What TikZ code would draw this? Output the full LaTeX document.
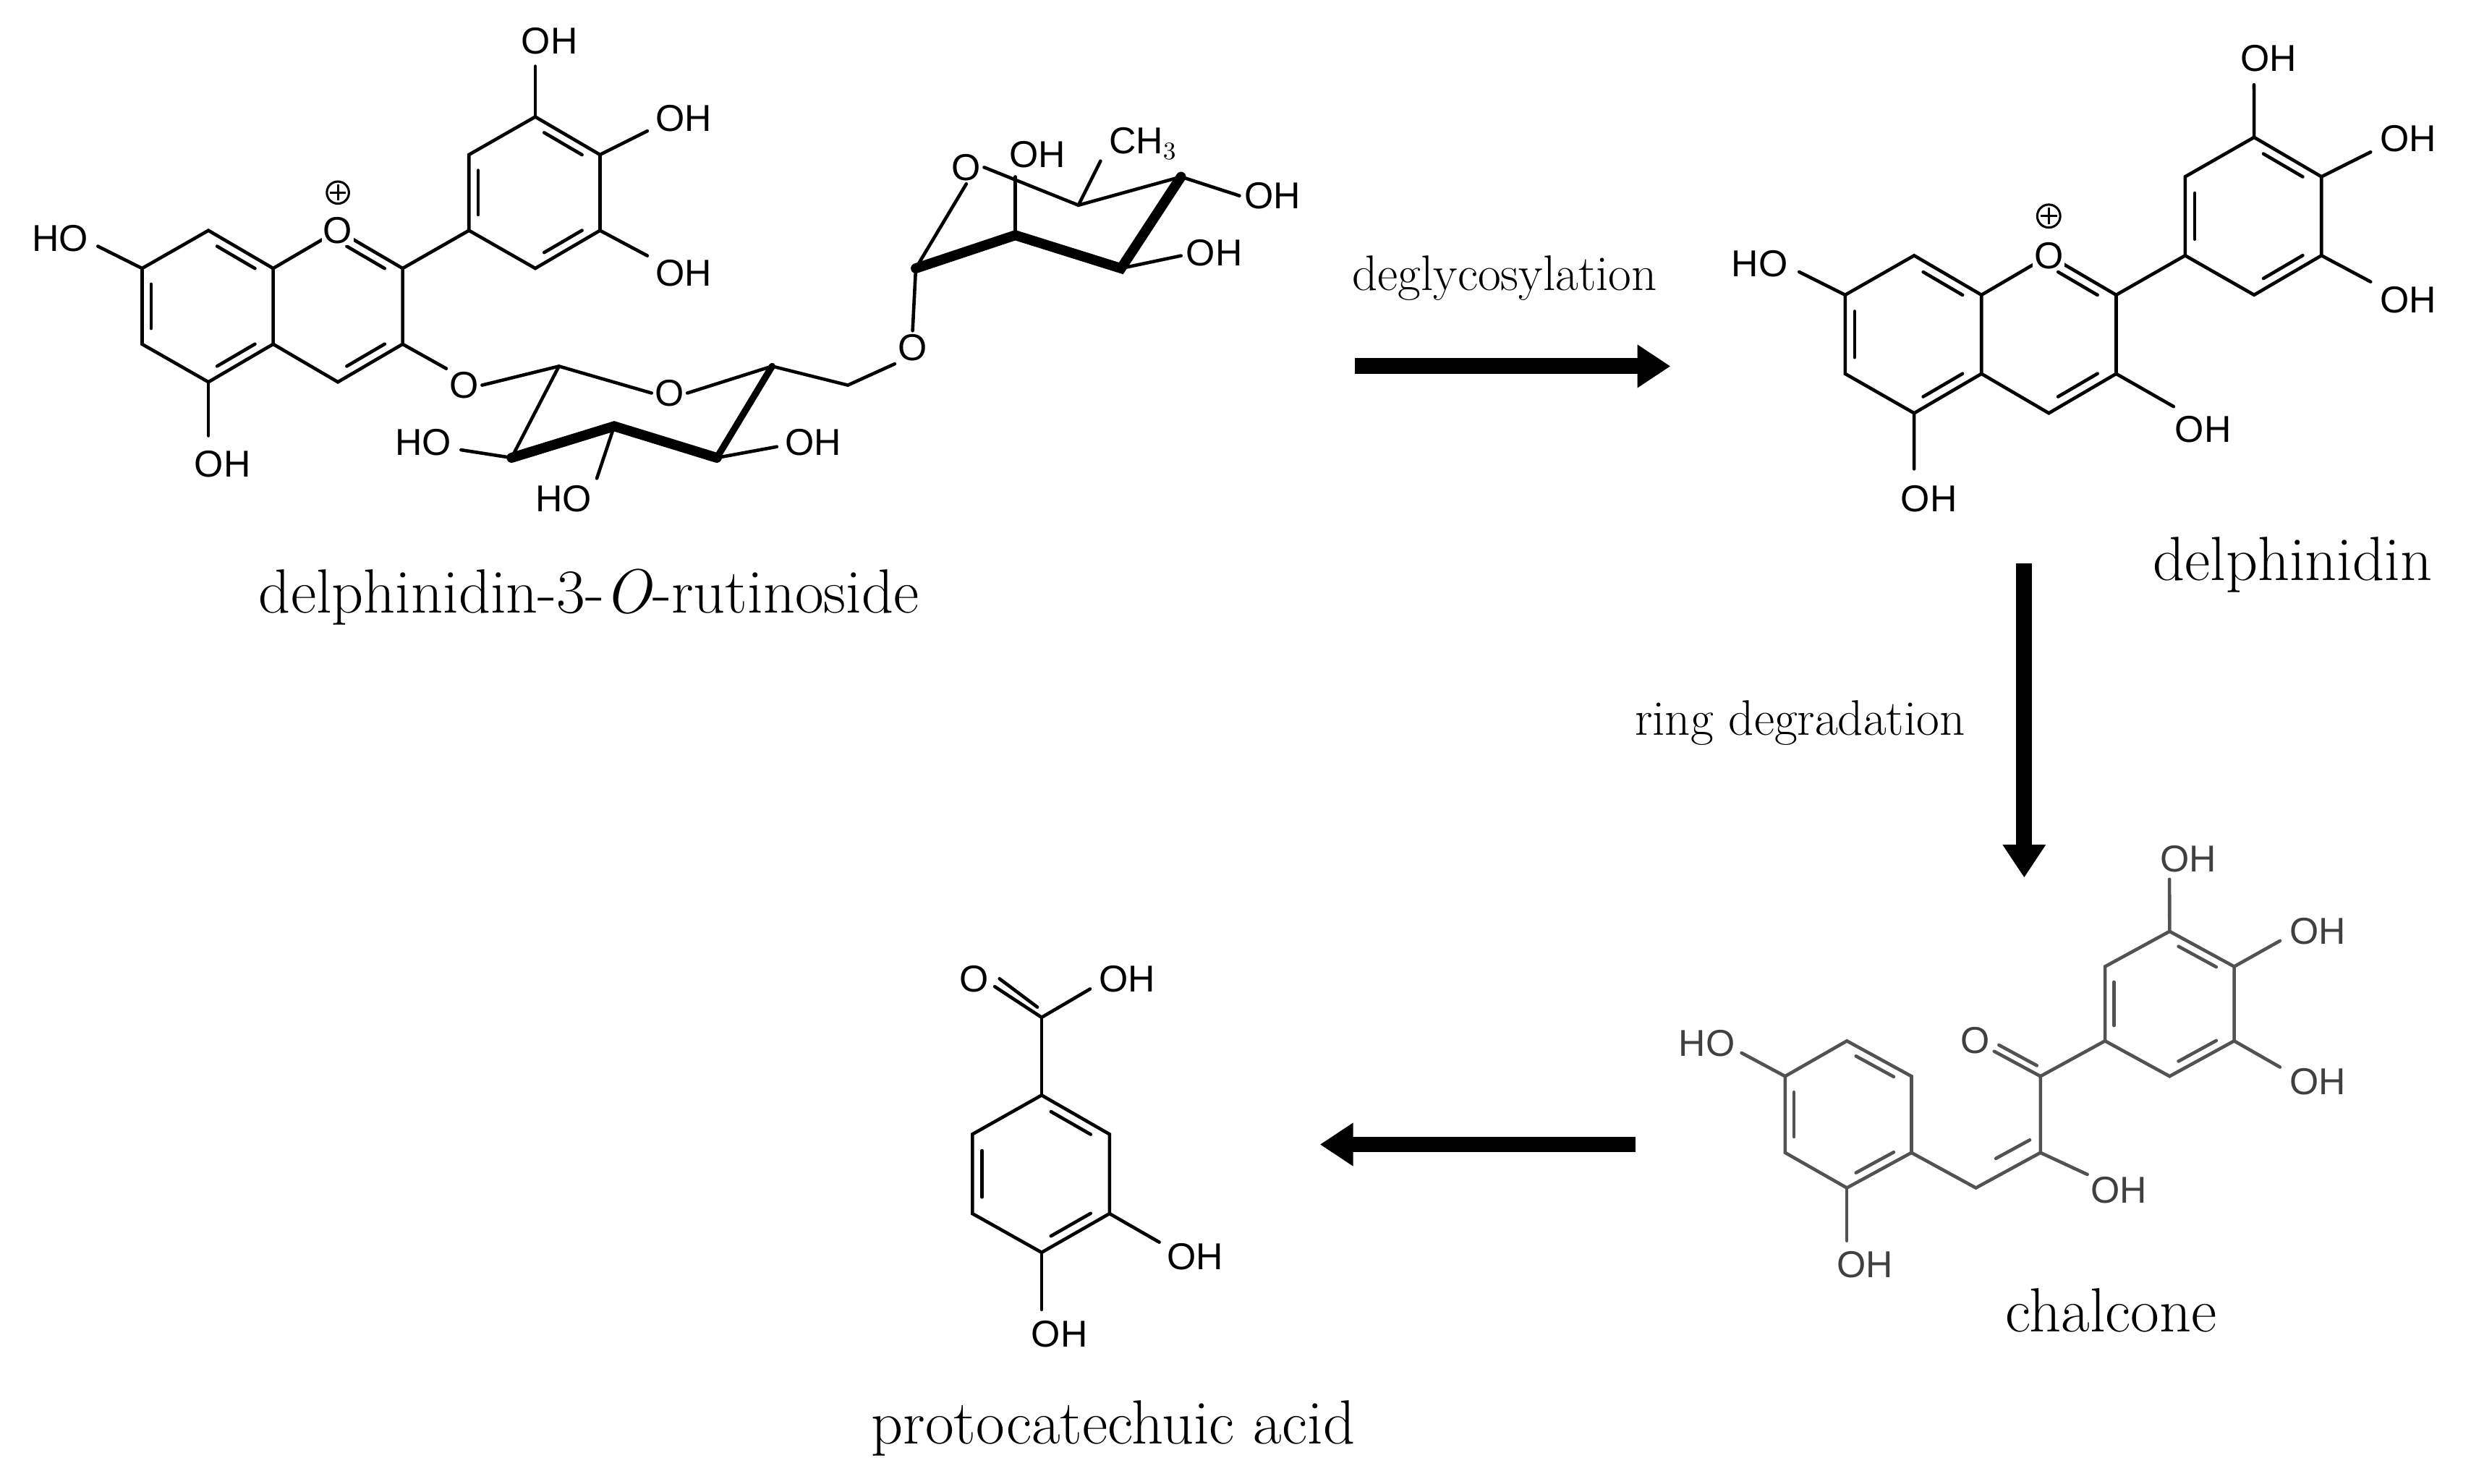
\documentclass[tikz,border=0pt]{standalone}
\usepackage{fontspec}
\newfontfamily\chem{Liberation Sans}
\usetikzlibrary{calc,arrows.meta}
\tikzset{
  bond/.style={line width=1.2pt,line cap=round},
  bold/.style={line width=3.6pt,line cap=round},
  atom/.style={font=\chem\fontsize{13.5}{14}\selectfont,inner sep=1pt},
  bigname/.style={font=\fontsize{22.5}{26}\selectfont},
  smallname/.style={font=\fontsize{18}{20}\selectfont},
  bigarrow/.style={line width=0.2cm,-{Triangle[length=0.42cm,width=0.52cm]}}
}
\newcommand{\ib}[3]{\draw[bond] ($(#1)!0.16!(#2)!0.14!(#3)$) -- ($(#2)!0.16!(#1)!0.14!(#3)$);}
\newcommand{\delphcore}{%
  \coordinate (c8a) at (173,170); \coordinate (c4a) at (173,218);
  \coordinate (c4) at (214,242); \coordinate (c3) at (255,218);
  \coordinate (c2) at (255,170); \coordinate (o1) at (214,146);
  \coordinate (c8) at (132,146); \coordinate (c7) at (90,170);
  \coordinate (c6) at (90,218); \coordinate (c5) at (132,242);
  \coordinate (b1) at (297,146); \coordinate (b2) at (297,98);
  \coordinate (b3) at (339,74); \coordinate (b4) at (380,98);
  \coordinate (b5) at (380,146); \coordinate (b6) at (339,170);
  \coordinate (ca) at (131,194); \coordinate (cc) at (214,194); \coordinate (cb) at (339,122);
  \draw[bond] (c8a)--(c8)--(c7)--(c6)--(c5)--(c4a)--cycle;
  \draw[bond] (c8a)--(o1)--(c2)--(c3)--(c4)--(c4a);
  \draw[bond] (b1)--(b2)--(b3)--(b4)--(b5)--(b6)--cycle;
  \draw[bond] (c2)--(b1);
  \ib{c8}{c8a}{ca} \ib{c7}{c6}{ca} \ib{c4a}{c5}{ca}
  \ib{o1}{c2}{cc} \ib{c3}{c4}{cc}
  \ib{b1}{b2}{cb} \ib{b3}{b4}{cb} \ib{b5}{b6}{cb}
  \node[atom,fill=white,inner sep=0.5pt] (oplus) at (o1) {O};
  \draw[line width=0.8pt] (214,122) circle (7);
  \draw[line width=0.8pt] (209,122)--(219,122) (214,117)--(214,127);
  \draw[bond] (c7)--(62,156); \node[atom] (hoA) at (38,151) {HO};
  \draw[bond] (c5)--(132,276); \node[atom] (ohA) at (141,294) {OH};
  \draw[bond] (b3)--(339,42); \node[atom] (ohB1) at (348,26) {OH};
  \draw[bond] (b4)--(410,83); \node[atom] (ohB2) at (433,75) {OH};
  \draw[bond] (b5)--(410,162); \node[atom] (ohB3) at (433,173) {OH};
}
\begin{document}
\begin{tikzpicture}[x=0.02cm,y=-0.02cm]
\useasboundingbox (0,0) rectangle (1565,940);
\fill[white] (0,0) rectangle (1565,940);

% ---------- delphinidin-3-O-rutinoside ----------
\begin{scope}
\delphcore
\node[atom] (og) at (294,244) {O};
\draw[bond] (c3)--(og.north west);
\coordinate (g1) at (354,232); \coordinate (go) at (424,249);
\coordinate (g5) at (489,232); \coordinate (g4) at (454,290);
\coordinate (g3) at (389,270); \coordinate (g2) at (324,290);
\node[atom] (gor) at (go) {O};
\draw[bond] (og.east)--(g1)--(gor.west);
\draw[bond] (gor.east)--(g5);
\draw[bond] (g1)--(g2);
\draw[bold] (g2)--(g3)--(g4);
\draw[bond,line width=2.4pt] (g4)--(g5);
\draw[bond] (g2)--(292,285); \node[atom] (hoG2) at (268,280) {HO};
\draw[bond] (g3)--(378,303); \node[atom] (hoG3) at (357,316) {HO};
\draw[bond] (g4)--(492,283); \node[atom] (ohG4) at (515,280) {OH};
\coordinate (g6) at (537,244);
\node[atom] (o6) at (578,220) {O};
\draw[bond] (g5)--(g6)--(o6.south west);
\coordinate (r1) at (580,170); \coordinate (r2) at (643,149);
\coordinate (r3) at (710,170); \coordinate (r4) at (748,112);
\coordinate (r5) at (683,130);
\node[atom] (ro) at (612,106) {O};
\draw[bond] (o6.north)--(r1)--(ro.south);
\draw[bold] (r1)--(r2)--(r3)--(r4);
\draw[bond] (r4)--(r5)--(ro.east);
\draw[bond] (r2)--(643,112); \node[atom] (ohR2) at (657,98) {OH};
\draw[bond] (r5)--(697,102); \node[atom] (ch3) at (724,91) {CH$_3$};
\draw[bond] (r4)--(785,124); \node[atom] (ohR4) at (806,124) {OH};
\draw[bond] (r3)--(748,162); \node[atom] (ohR3) at (769,160) {OH};
\end{scope}
\node[bigname] (n1) at (373,378) {delphinidin-3-\textit{O}-rutinoside};

% ---------- delphinidin ----------
\begin{scope}[shift={(1075,10)},scale=1.04]
\delphcore
\draw[bond] (c3)--(290,238); \node[atom] (ohC3) at (308,252) {OH};
\end{scope}
\node[bigname] (n2) at (1452,358) {delphinidin};

% ---------- arrows ----------
\coordinate (a1s) at (858,232); \coordinate (a1e) at (1058,232);
\draw[bigarrow] (a1s)--(a1e);
\node[smallname] (l1) at (953,176) {deglycosylation};
\coordinate (a2s) at (1282,357); \coordinate (a2e) at (1282,556);
\draw[bigarrow] (a2s)--(a2e);
\node[smallname] (l2) at (1140,458) {ring degradation};
\coordinate (a3s) at (1036,725); \coordinate (a3e) at (836,725);
\draw[bigarrow] (a3s)--(a3e);

% ---------- chalcone ----------
\begin{scope}[black!68]
\coordinate (k1) at (1130.6,681.8); \coordinate (k2) at (1169.7,659.4);
\coordinate (k3) at (1210.6,681.8); \coordinate (k4) at (1210.6,730.2);
\coordinate (k5) at (1169.7,752.5); \coordinate (k6) at (1130.6,730.2);
\coordinate (kc) at (1170.6,706);
\draw[bond] (k1)--(k2)--(k3)--(k4)--(k5)--(k6)--cycle;
\ib{k2}{k3}{kc} \ib{k1}{k6}{kc} \ib{k4}{k5}{kc}
\draw[bond] (k1)--(1103,667); \node[atom,text=black!75] (hoK) at (1081,661) {HO};
\draw[bond] (k5)--(1169.7,786); \node[atom,text=black!75] (ohK5) at (1181,801) {OH};
\coordinate (v1) at (1251.4,752.5); \coordinate (v2) at (1292.3,730.2);
\coordinate (v3) at (1292.3,681.8);
\draw[bond] (k4)--(v1)--(v2)--(v3);
\coordinate (vref) at (1280,690);
\draw[bond] ($(v1)!0.18!(v2)!0.25!(vref)$) -- ($(v2)!0.12!(v1)!0.25!(vref)$);
\draw[bond] (v2)--(1322,744); \node[atom,text=black!75] (ohV) at (1342,754) {OH};
\node[atom,text=black!75] (ok) at (1251,659) {O};
\draw[bond] (v3)--(1263,666);
\draw[bond] (1290,675)--(1266,662);
\coordinate (m1) at (1333.2,659.4); \coordinate (m2) at (1333.2,612.3);
\coordinate (m3) at (1374.1,590); \coordinate (m4) at (1415,612.3);
\coordinate (m5) at (1415,659.4); \coordinate (m6) at (1374.1,681.8);
\coordinate (mc) at (1374,636);
\draw[bond] (v3)--(m1);
\draw[bond] (m1)--(m2)--(m3)--(m4)--(m5)--(m6)--cycle;
\ib{m3}{m4}{mc} \ib{m5}{m6}{mc} \ib{m2}{m1}{mc}
\draw[bond] (m3)--(1374,557); \node[atom,text=black!75] (ohM3) at (1386,544) {OH};
\draw[bond] (m4)--(1444,596); \node[atom,text=black!75] (ohM4) at (1468,590) {OH};
\draw[bond] (m5)--(1444,676); \node[atom,text=black!75] (ohM5) at (1468,685) {OH};
\end{scope}
\node[bigname] (n3) at (1337,830) {chalcone};

% ---------- protocatechuic acid ----------
\coordinate (p1) at (659.7,693.8); \coordinate (p2) at (702.7,718.5);
\coordinate (p3) at (702.7,768.8); \coordinate (p4) at (659.7,793.4);
\coordinate (p5) at (615.9,768.8); \coordinate (p6) at (615.9,718.5);
\coordinate (pc) at (659.5,743.6); \coordinate (pk) at (659.7,644.5);
\draw[bond] (p1)--(p2)--(p3)--(p4)--(p5)--(p6)--cycle;
\ib{p1}{p2}{pc} \ib{p3}{p4}{pc} \ib{p5}{p6}{pc}
\draw[bond] (p1)--(pk);
\draw[bond] (pk)--(690.4,626.5); \node[atom] (ohP) at (714,620) {OH};
\node[atom] (oP) at (617,620) {O};
\draw[bond] (pk)--(630,625);
\draw[bond] (657,638)--(633,620);
\draw[bond] (p3)--(734.2,786.9); \node[atom] (ohP3) at (757,796) {OH};
\draw[bond] (p4)--(659.7,829.6); \node[atom] (ohP4) at (671,845) {OH};
\node[bigname] (n4) at (705,905) {protocatechuic acid};
\end{tikzpicture}
\end{document}
